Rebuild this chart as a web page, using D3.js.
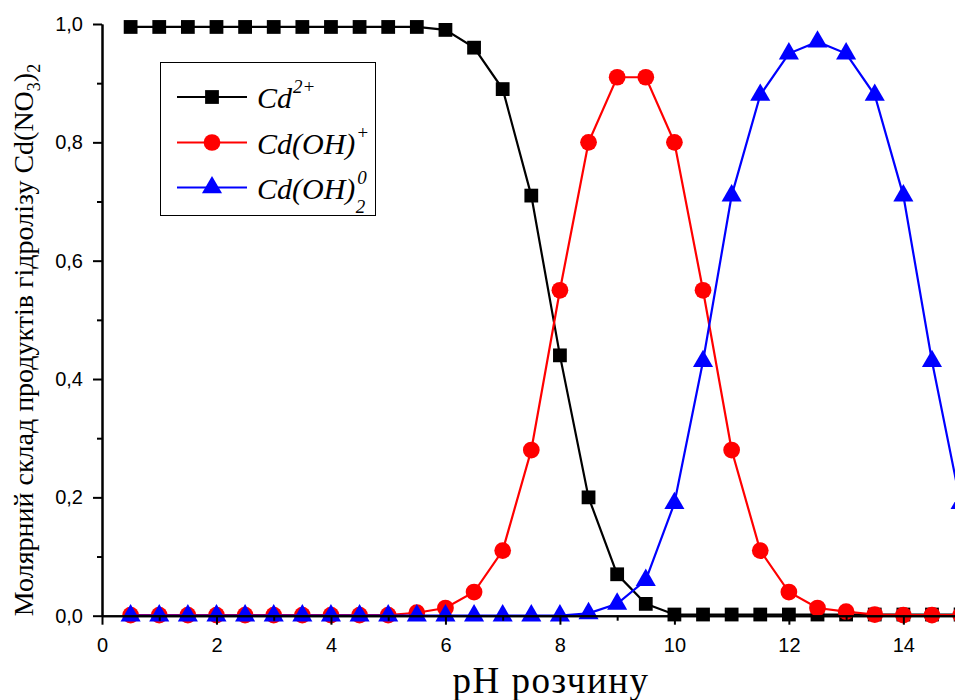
<!DOCTYPE html>
<html><head><meta charset="utf-8">
<script src="https://cdn.jsdelivr.net/npm/d3@7"></script>
<style>body{margin:0;background:#fff}svg{display:block}</style>
</head><body><svg id="c" width="955" height="700"></svg>
<script>
const pH = [0.5,1,1.5,2,2.5,3,3.5,4,4.5,5,5.5,6,6.5,7,7.5,8,8.5,9,9.5,10,10.5,11,11.5,12,12.5,13,13.5,14,14.5,15];
const cd2 = [0.995,0.995,0.995,0.995,0.995,0.995,0.995,0.995,0.995,0.995,0.995,0.99,0.96,0.89,0.71,0.44,0.20,0.07,0.02,0.002,0.002,0.002,0.002,0.002,0.002,0.002,0.002,0.002,0.002,0.002];
const cdOH = [0.001,0.001,0.001,0.001,0.001,0.001,0.001,0.001,0.001,0.001,0.005,0.013,0.04,0.11,0.28,0.55,0.80,0.91,0.91,0.80,0.55,0.28,0.11,0.04,0.013,0.007,0.002,0.001,0.001,0.001];
const cdOH2 = [0,0,0,0,0,0,0,0,0,0,0,0,0,0,0,0,0.004,0.02,0.06,0.19,0.43,0.71,0.88,0.95,0.97,0.95,0.88,0.71,0.43,0.19];
const xTicks = [0,2,4,6,8,10,12,14];
const yTicks = [0,0.2,0.4,0.6,0.8,1.0];

const svg = d3.select("#c");
const x = d3.scaleLinear().domain([0,15]).range([102,960.6]);
const y = d3.scaleLinear().domain([0,1]).range([615.7,24]);
const fmt = d => d3.format(".1f")(d).replace(".", ",");

const series = [
  {vals: cd2, color:"#000", sym: d3.symbolSquare, size: 190},
  {vals: cdOH, color:"#ff0000", sym: d3.symbolCircle, size: 220},
  {vals: cdOH2, color:"#0000ff", sym: d3.symbolTriangle, size: 175}
];
const line = d3.line().x(d=>x(d[0])).y(d=>y(d[1]));
series.forEach(s=>{
  const pts = pH.map((p,i)=>[p,s.vals[i]]);
  svg.append("path").attr("d",line(pts)).attr("fill","none").attr("stroke",s.color).attr("stroke-width",2.2);
  svg.append("g").selectAll("path").data(pts).join("path")
    .attr("transform",d=>`translate(${x(d[0])},${y(d[1])})`)
    .attr("d",d3.symbol().type(s.sym).size(s.size)()).attr("fill",s.color);
});

// axes
const xAxis = svg.append("g").attr("transform",`translate(0,${y(0)})`)
  .call(d3.axisBottom(x).tickValues(xTicks).tickSize(9).tickPadding(3).tickSizeOuter(0).tickFormat(d3.format("d")));
const xMinor = svg.append("g").attr("transform",`translate(0,${y(0)})`)
  .call(d3.axisBottom(x).tickValues(d3.range(1,16,2)).tickSize(5).tickSizeOuter(0).tickFormat(""));
const yAxis = svg.append("g").attr("transform",`translate(${x(0)},0)`)
  .call(d3.axisLeft(y).tickValues(yTicks).tickSize(9).tickPadding(10).tickSizeOuter(0).tickFormat(fmt));
const yMinor = svg.append("g").attr("transform",`translate(${x(0)},0)`)
  .call(d3.axisLeft(y).tickValues([0.1,0.3,0.5,0.7,0.9]).tickSize(5).tickSizeOuter(0).tickFormat(""));
[xAxis,xMinor,yAxis,yMinor].forEach(g=>{
  g.select(".domain").attr("stroke","#000").attr("stroke-width",2);
  g.selectAll(".tick line").attr("stroke","#000").attr("stroke-width",2);
  g.selectAll(".tick text").attr("font-family","Liberation Sans, Arial, sans-serif").attr("font-size",20).attr("fill","#000");
});
xAxis.selectAll(".tick text").attr("dy","1.2em");

// legend
const lg = svg.append("g");
lg.append("rect").attr("x",160.5).attr("y",62.5).attr("width",215).attr("height",153).attr("fill","#fff").attr("stroke","#000").attr("stroke-width",1);
const labels = [
  {main:"Cd", sup:"2+", sub:null, supDx:1},
  {main:"Cd(OH)", sup:"+", sub:null, supDx:1},
  {main:"Cd(OH)", sup:"0", sub:"2", supDx:2}
];
const rowsY = [97,142.5,187.5];
series.forEach((s,i)=>{
  const yy = rowsY[i];
  lg.append("line").attr("x1",177).attr("x2",247).attr("y1",yy).attr("y2",yy).attr("stroke",s.color).attr("stroke-width",2.2);
  lg.append("path").attr("transform",`translate(212,${yy})`).attr("d",d3.symbol().type(s.sym).size(s.size)()).attr("fill",s.color);
  const t = lg.append("text").attr("x",257).attr("y",yy+11).attr("font-family","Liberation Serif, Times New Roman, serif").attr("font-style","italic").attr("font-size",30).attr("fill","#000");
  const L = labels[i];
  t.append("tspan").text(L.main);
  t.append("tspan").attr("font-size",19).attr("dx",L.supDx).attr("dy",-15).text(L.sup);
  if (L.sub){
    t.append("tspan").attr("font-size",19).attr("dx",-11).attr("dy",29).text(L.sub);
  }
});

// axis titles
svg.append("text").attr("x",551).attr("y",693).attr("text-anchor","middle").attr("letter-spacing",1.5)
  .attr("font-family","Liberation Serif, Times New Roman, serif").attr("font-size",37).attr("fill","#000").text("pH розчину");
const yt = svg.append("text").attr("transform","translate(33,340) rotate(-90)").attr("text-anchor","middle")
  .attr("font-family","Liberation Serif, Times New Roman, serif").attr("font-size",28).attr("fill","#000");
yt.append("tspan").text("Молярний склад продуктів гідролізу Cd(NO");
yt.append("tspan").attr("font-size",18).attr("dy",7).text("3");
yt.append("tspan").attr("dy",-7).text(")");
yt.append("tspan").attr("font-size",18).attr("dy",7).text("2");
</script></body></html>
